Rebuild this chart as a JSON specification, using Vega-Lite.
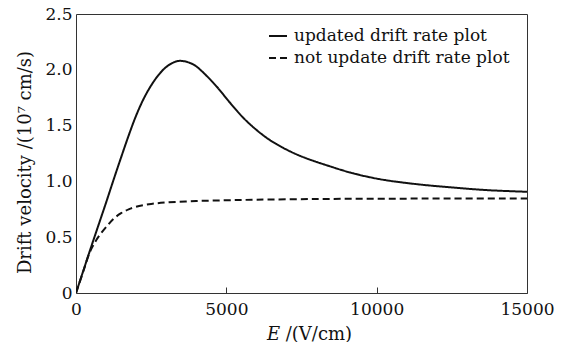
{
  "$schema": "https://vega.github.io/schema/vega-lite/v6.json",
  "autosize": {"type": "none"},
  "padding": {"left": 76, "top": 14, "right": 37, "bottom": 49},
  "width": 451,
  "height": 279,
  "background": "white",
  "config": {
    "view": {"stroke": "#333333", "strokeWidth": 1},
    "font": "DejaVu Serif",
    "axis": {
      "labelFont": "DejaVu Serif",
      "titleFont": "DejaVu Serif",
      "labelFontSize": 17,
      "titleFontSize": 18,
      "labelColor": "#111111",
      "titleColor": "#111111",
      "titleFontWeight": "normal",
      "grid": false,
      "domain": false
    },
    "legend": {
      "labelFont": "DejaVu Serif",
      "labelFontSize": 17,
      "labelColor": "#111111",
      "labelLimit": 0
    }
  },
  "data": {
    "values": [
      {"E": 0, "v": 0, "series": "updated drift rate plot"},
      {"E": 250, "v": 0.205, "series": "updated drift rate plot"},
      {"E": 500, "v": 0.41, "series": "updated drift rate plot"},
      {"E": 750, "v": 0.61, "series": "updated drift rate plot"},
      {"E": 1000, "v": 0.81, "series": "updated drift rate plot"},
      {"E": 1250, "v": 1.015, "series": "updated drift rate plot"},
      {"E": 1500, "v": 1.215, "series": "updated drift rate plot"},
      {"E": 1750, "v": 1.41, "series": "updated drift rate plot"},
      {"E": 2000, "v": 1.59, "series": "updated drift rate plot"},
      {"E": 2250, "v": 1.74, "series": "updated drift rate plot"},
      {"E": 2500, "v": 1.86, "series": "updated drift rate plot"},
      {"E": 2750, "v": 1.955, "series": "updated drift rate plot"},
      {"E": 3000, "v": 2.025, "series": "updated drift rate plot"},
      {"E": 3250, "v": 2.067, "series": "updated drift rate plot"},
      {"E": 3450, "v": 2.08, "series": "updated drift rate plot"},
      {"E": 3700, "v": 2.07, "series": "updated drift rate plot"},
      {"E": 3950, "v": 2.04, "series": "updated drift rate plot"},
      {"E": 4234, "v": 1.975, "series": "updated drift rate plot"},
      {"E": 4678, "v": 1.85, "series": "updated drift rate plot"},
      {"E": 5121, "v": 1.705, "series": "updated drift rate plot"},
      {"E": 5564, "v": 1.57, "series": "updated drift rate plot"},
      {"E": 6008, "v": 1.46, "series": "updated drift rate plot"},
      {"E": 6451, "v": 1.37, "series": "updated drift rate plot"},
      {"E": 6895, "v": 1.3, "series": "updated drift rate plot"},
      {"E": 7338, "v": 1.242, "series": "updated drift rate plot"},
      {"E": 7782, "v": 1.195, "series": "updated drift rate plot"},
      {"E": 8447, "v": 1.135, "series": "updated drift rate plot"},
      {"E": 9112, "v": 1.08, "series": "updated drift rate plot"},
      {"E": 9777, "v": 1.037, "series": "updated drift rate plot"},
      {"E": 10442, "v": 1.005, "series": "updated drift rate plot"},
      {"E": 11107, "v": 0.982, "series": "updated drift rate plot"},
      {"E": 11772, "v": 0.963, "series": "updated drift rate plot"},
      {"E": 12547, "v": 0.945, "series": "updated drift rate plot"},
      {"E": 13657, "v": 0.922, "series": "updated drift rate plot"},
      {"E": 15000, "v": 0.907, "series": "updated drift rate plot"},
      {"E": 0, "v": 0, "series": "not update drift rate plot"},
      {"E": 250, "v": 0.2, "series": "not update drift rate plot"},
      {"E": 450, "v": 0.36, "series": "not update drift rate plot"},
      {"E": 600, "v": 0.44, "series": "not update drift rate plot"},
      {"E": 750, "v": 0.505, "series": "not update drift rate plot"},
      {"E": 1000, "v": 0.59, "series": "not update drift rate plot"},
      {"E": 1250, "v": 0.665, "series": "not update drift rate plot"},
      {"E": 1500, "v": 0.715, "series": "not update drift rate plot"},
      {"E": 1750, "v": 0.75, "series": "not update drift rate plot"},
      {"E": 2000, "v": 0.773, "series": "not update drift rate plot"},
      {"E": 2500, "v": 0.798, "series": "not update drift rate plot"},
      {"E": 3000, "v": 0.811, "series": "not update drift rate plot"},
      {"E": 4000, "v": 0.824, "series": "not update drift rate plot"},
      {"E": 5000, "v": 0.831, "series": "not update drift rate plot"},
      {"E": 6000, "v": 0.836, "series": "not update drift rate plot"},
      {"E": 8000, "v": 0.842, "series": "not update drift rate plot"},
      {"E": 10000, "v": 0.845, "series": "not update drift rate plot"},
      {"E": 12000, "v": 0.846, "series": "not update drift rate plot"},
      {"E": 15000, "v": 0.847, "series": "not update drift rate plot"}
    ]
  },
  "mark": {"type": "line", "interpolate": "catmull-rom", "strokeWidth": 2, "color": "#111111", "clip": true},
  "encoding": {
    "x": {
      "field": "E",
      "type": "quantitative",
      "scale": {"domain": [0, 15000], "nice": false},
      "axis": {
        "values": [0, 5000, 10000, 15000],
        "format": "d",
        "tickSize": -6,
        "tickColor": "#333333",
        "labelPadding": 14,
        "title": "𝐸 /(V/cm)",
        "titlePadding": 8,
        "titleX": 233,
        "labelFlush": false
      }
    },
    "y": {
      "field": "v",
      "type": "quantitative",
      "scale": {"domain": [0, 2.5], "nice": false},
      "axis": {
        "values": [0, 0.5, 1, 1.5, 2, 2.5],
        "labelExpr": "datum.value == 0 ? '0' : format(datum.value, '.1f')",
        "ticks": false,
        "labelPadding": 4,
        "title": "Drift velocity /(10⁷ cm/s)",
        "titlePadding": 10,
        "titleY": 148,
        "labelFlush": false
      }
    },
    "strokeDash": {
      "field": "series",
      "type": "nominal",
      "scale": {
        "domain": ["updated drift rate plot", "not update drift rate plot"],
        "range": [[1, 0], [7, 4]]
      },
      "legend": {
        "title": null,
        "orient": "none",
        "legendX": 192,
        "legendY": 12,
        "symbolType": "stroke",
        "symbolSize": 324,
        "symbolStrokeWidth": 2,
        "symbolStrokeColor": "#111111",
        "labelOffset": 6,
        "rowPadding": 4
      }
    }
  }
}
